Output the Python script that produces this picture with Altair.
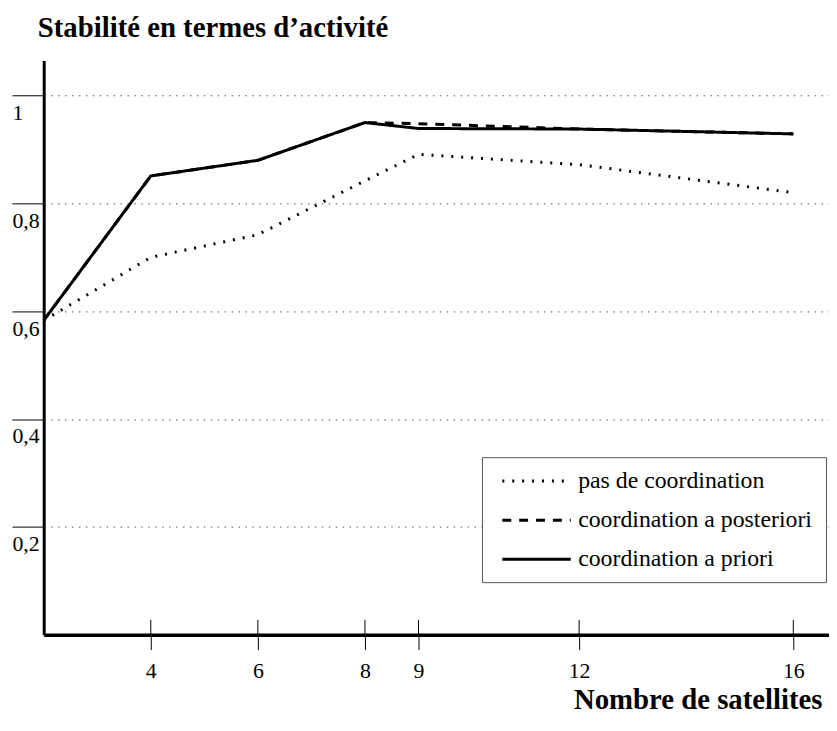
import altair as alt
import pandas as pd

# ---- data ----
satellites = [2, 4, 6, 8, 9, 12, 16]
series_names = ["pas de coordination", "coordination a posteriori", "coordination a priori"]
pas_de_coordination = [0.583, 0.700, 0.742, 0.842, 0.891, 0.872, 0.820]
a_posteriori = [0.583, 0.851, 0.880, 0.950, 0.948, 0.938, 0.929]
a_priori = [0.583, 0.851, 0.880, 0.950, 0.939, 0.938, 0.929]
x_ticks = [4, 6, 8, 9, 12, 16]
y_ticks = [0.2, 0.4, 0.6, 0.8, 1.0]

rows = []
for name, vals in zip(series_names, [pas_de_coordination, a_posteriori, a_priori]):
    for x, v in zip(satellites, vals):
        rows.append({"satellites": x, "stabilite": v, "serie": name})
df = pd.DataFrame(rows)
ticks_df = pd.DataFrame({"t": x_ticks})

FONT = "Liberation Serif"
W, H = 792, 579
XDOM = [2, 16.667]
YDOM = [0, 1.065]

xscale = alt.Scale(domain=XDOM, nice=False, zero=False)
yscale = alt.Scale(domain=YDOM, nice=False, zero=False)

lines = alt.Chart(df).mark_line(color="black", strokeWidth=3, strokeCap="butt").encode(
    x=alt.X("satellites:Q", scale=xscale,
            axis=alt.Axis(values=x_ticks, title="Nombre de satellites", grid=False,
                          domainColor="black", domainWidth=3.5,
                          tickColor="black", tickWidth=1, tickSize=15,
                          labelFont=FONT, labelFontSize=22, labelColor="black",
                          labelBaseline="alphabetic", labelPadding=28,
                          labelFlush=False, labelOverlap=False,
                          titleFont=FONT, titleFontSize=29, titleFontWeight="bold",
                          titleColor="black", titleAlign="right", titleBaseline="alphabetic",
                          titleX=785, titleY=74)),
    y=alt.Y("stabilite:Q", scale=yscale,
            axis=alt.Axis(values=y_ticks, title=None, grid=True,
                          gridColor="#555", gridDash=[1.5, 5.5], gridWidth=1,
                          domainColor="black", domainWidth=3,
                          tickColor="black", tickWidth=1, tickSize=32,
                          labelFont=FONT, labelFontSize=22, labelColor="black",
                          labelAlign="left", labelBaseline="alphabetic",
                          labelPadding=0, labelOffset=24,
                          labelFlush=False, labelOverlap=False, labelBound=False,
                          labelExpr="replace(format(datum.value, '.1~f'), '.', ',')")),
    strokeDash=alt.StrokeDash("serie:N",
                              scale=alt.Scale(domain=series_names,
                                              range=[[2, 8], [9, 8], [1, 0]]),
                              legend=alt.Legend(orient="none", legendX=442, legendY=400,
                                                title="\u2003", titleOrient="right",
                                                titleFontSize=10, titlePadding=3,
                                                symbolType="M-0.3,0H5.7",
                                                symbolSize=529, symbolStrokeWidth=3,
                                                symbolStrokeColor="black",
                                                symbolFillColor="transparent",
                                                labelFont=FONT, labelFontSize=24,
                                                labelColor="black", labelOffset=60,
                                                labelLimit=400,
                                                padding=11, rowPadding=14.5,
                                                strokeColor="#555", fillColor="white")),
    order=alt.Order("satellites:Q"),
)

upper_ticks = alt.Chart(ticks_df).mark_rule(color="black", strokeWidth=1).encode(
    x=alt.X("t:Q", scale=xscale),
    y=alt.datum(0, scale=yscale),
    y2=alt.datum(0.0276),
)

chart = alt.layer(upper_ticks, lines).properties(
    width=W, height=H,
    background="white",
    title=alt.TitleParams("Stabilité en termes d’activité", anchor="start", frame="group",
                          font=FONT, fontSize=29, fontWeight="bold", color="black",
                          baseline="alphabetic", offset=22, dx=-6, dy=27),
    autosize=alt.AutoSizeParams(type="none"),
    padding={"left": 36, "top": 50, "right": 0, "bottom": 81},
).configure_view(stroke=None)

chart.save("out.html", embed_options={"renderer": "svg", "actions": False})
